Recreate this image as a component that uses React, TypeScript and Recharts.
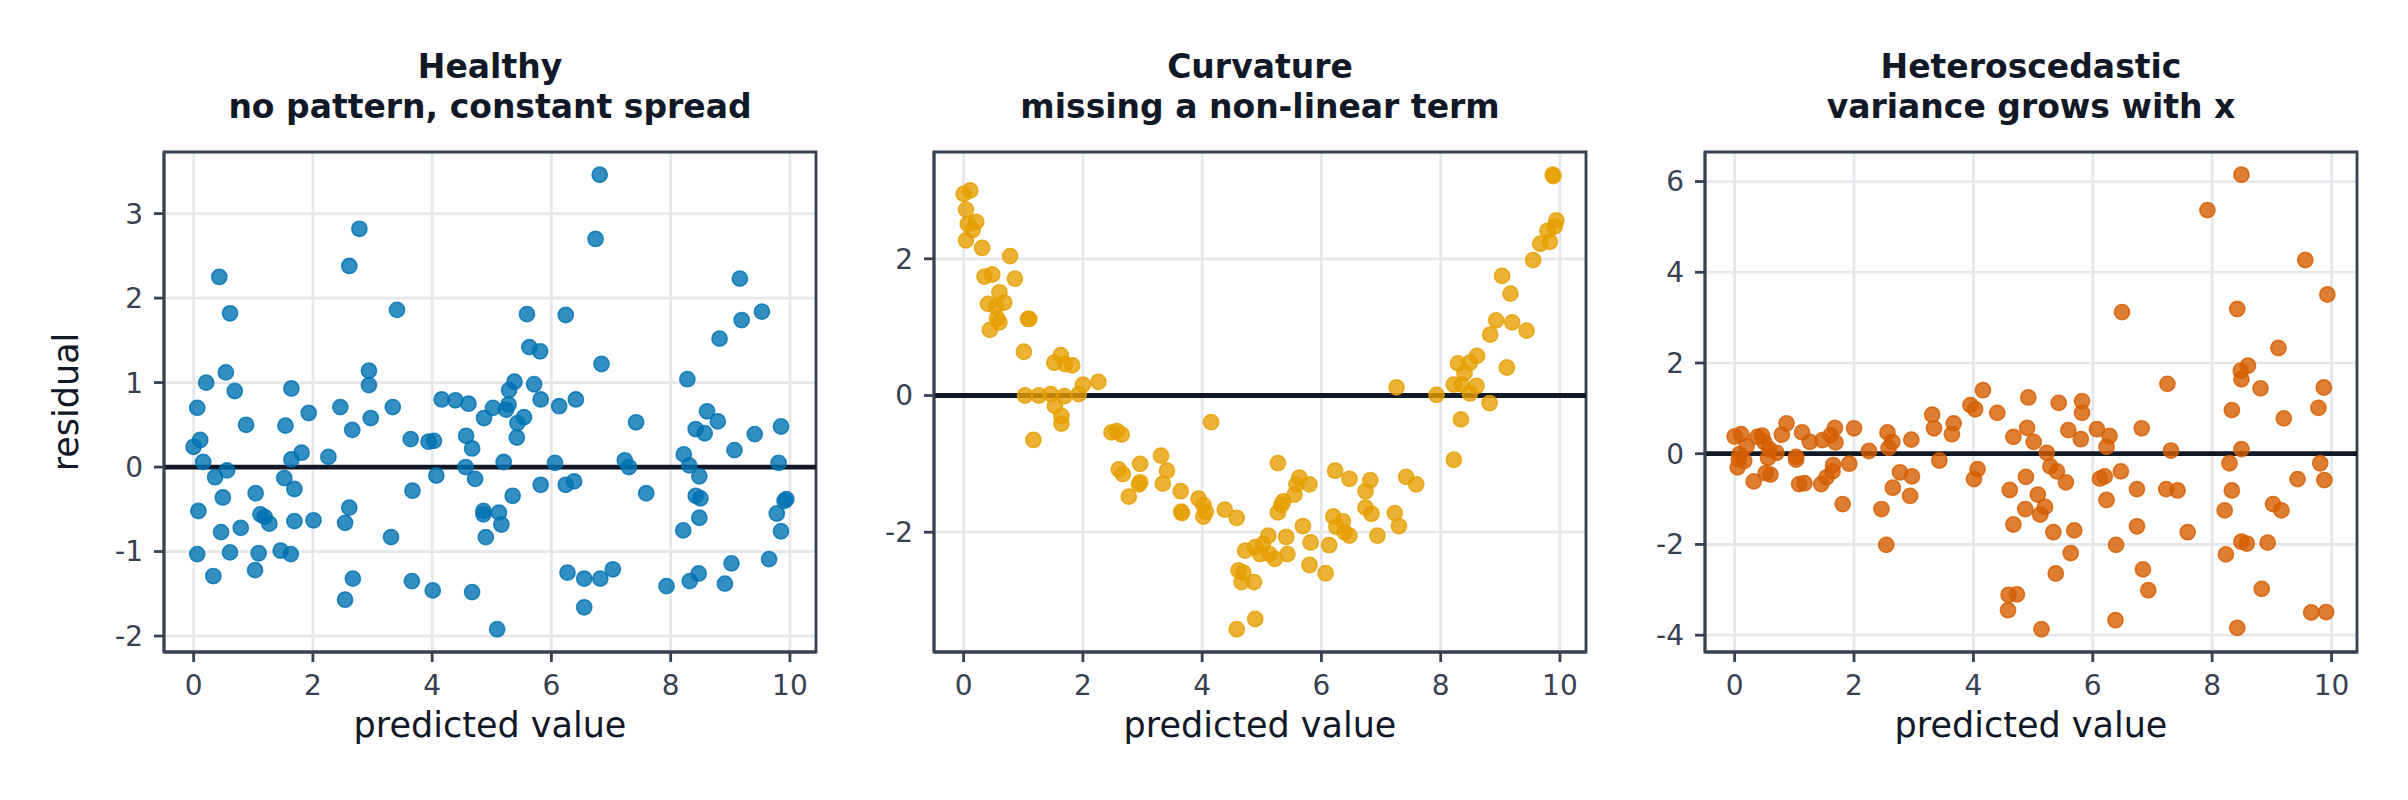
import { ScatterChart, Scatter, XAxis, YAxis, CartesianGrid, ReferenceLine, ReferenceArea } from 'recharts';

const FONT = '"DejaVu Sans", "Liberation Sans", sans-serif';
const INK = '#111827';
const AXIS = '#374151';
const GRID = '#e5e7eb';

// healthy residuals: no pattern, constant spread
const healthyX = [
  2.78, 2.61, 0.43, 0.61, 3.41, 0.54, 0.21, 0.69, 1.64, 2.94, 2.94, 0.06, 2.46, 3.34, 0.88, 1.54,
  1.93, 2.97, 2.66, 4.16, 4.39, 4.61, 4.87, 0.11, 0.0, 0.16, 1.81, 1.64, 2.26, 3.64, 3.94, 4.03,
  4.57, 4.67, 4.56, 0.56, 0.36, 1.52, 1.69, 4.07, 4.72, 0.49, 1.04, 3.67, 0.08, 2.61, 1.12, 1.19,
  1.27, 1.69, 2.01, 2.54, 0.46, 0.79, 3.31, 4.86, 4.86, 4.9, 0.06, 0.61, 1.09, 1.46, 1.63, 0.33,
  1.03, 2.67, 2.54, 3.66, 4.01, 4.67,
  6.81, 6.74, 9.16, 5.59, 6.24, 9.53, 9.19, 8.82, 5.63, 5.81, 6.84, 8.28, 5.38, 5.29, 5.71, 5.82,
  6.13, 6.41, 5.02, 5.24, 5.28, 5.54, 5.43, 5.42, 7.42, 8.61, 8.79, 8.42, 8.57, 9.41, 9.85, 9.07,
  8.22, 5.2, 6.06, 7.23, 7.3, 8.31, 9.81, 8.48, 5.82, 6.24, 6.38, 5.35, 7.59, 8.42, 8.5, 9.91,
  9.94, 5.12, 5.16, 9.78, 8.48, 8.21, 9.85, 9.65, 6.27, 6.55, 6.82, 7.03, 9.02, 8.47, 8.32, 7.93,
  8.91, 6.55, 5.09,
];
const healthyY = [
  2.82, 2.38, 2.25, 1.82, 1.86, 1.12, 1.0, 0.9, 0.93, 1.14, 0.97, 0.7, 0.71, 0.71, 0.5, 0.49,
  0.64, 0.58, 0.44, 0.8, 0.79, 0.75, 0.58, 0.32, 0.24, 0.06, 0.17, 0.09, 0.12, 0.33, 0.3, 0.31,
  0.37, 0.22, 0.0, -0.04, -0.12, -0.13, -0.26, -0.1, -0.14, -0.36, -0.31, -0.28, -0.52, -0.48, -0.56, -0.59,
  -0.67, -0.64, -0.63, -0.66, -0.77, -0.72, -0.83, -0.52, -0.56, -0.83, -1.03, -1.01, -1.02, -0.99, -1.03, -1.29,
  -1.22, -1.32, -1.57, -1.35, -1.46, -1.48,
  3.46, 2.7, 2.23, 1.81, 1.8, 1.84, 1.74, 1.52, 1.42, 1.37, 1.22, 1.04, 1.01, 0.91, 0.98, 0.8,
  0.72, 0.8, 0.7, 0.68, 0.74, 0.59, 0.52, 0.35, 0.53, 0.66, 0.54, 0.45, 0.4, 0.39, 0.48, 0.2,
  0.15, 0.06, 0.05, 0.08, 0.0, 0.02, 0.05, -0.11, -0.21, -0.21, -0.17, -0.34, -0.31, -0.34, -0.37, -0.4,
  -0.38, -0.54, -0.68, -0.55, -0.6, -0.75, -0.76, -1.09, -1.25, -1.32, -1.32, -1.21, -1.14, -1.26, -1.35, -1.41,
  -1.38, -1.66, -1.92,
];

// curvature: missing a non-linear term
const curvatureX = [
  0.0, 0.11, 0.04, 0.21, 0.07, 0.15, 0.04, 0.31, 0.78, 0.35, 0.48, 0.86, 0.6, 0.68, 0.41, 0.54,
  0.56, 0.6, 0.44, 1.1, 1.08, 1.01, 1.63, 1.52, 1.7, 1.82, 2.26, 2.0, 1.93, 1.03, 1.26, 1.46,
  1.69, 1.53, 1.64, 1.64, 1.17, 4.15, 2.48, 2.57, 2.65, 2.6, 2.67, 2.96, 2.94, 2.96, 2.77, 3.31,
  3.41, 3.34, 3.64, 3.66, 3.65, 3.94, 4.02, 4.06, 4.02, 4.38, 4.58, 4.72, 4.89, 4.61, 4.69, 4.66,
  4.87, 4.58, 4.89,
  9.88, 9.89, 9.94, 9.91, 9.79, 9.83, 9.67, 9.55, 9.03, 9.17, 8.93, 9.2, 9.44, 8.83, 9.11, 8.61,
  8.29, 8.49, 8.4, 8.22, 8.35, 8.6, 8.49, 7.93, 7.26, 8.82, 8.34, 8.22, 5.27, 5.63, 5.58, 5.8,
  5.55, 5.36, 5.33, 5.27, 6.23, 6.47, 6.82, 6.74, 7.42, 7.59, 6.74, 6.84, 7.23, 7.3, 5.69, 6.2,
  6.36, 6.25, 6.39, 6.47, 6.94, 5.82, 6.13, 5.8, 6.07, 5.41, 5.43, 5.11, 5.02, 5.22, 5.13, 4.97,
];
const curvatureY = [
  2.95, 3.0, 2.72, 2.54, 2.51, 2.42, 2.27, 2.16, 2.04, 1.74, 1.77, 1.71, 1.51, 1.36, 1.34, 1.3,
  1.13, 1.07, 0.96, 1.12, 1.12, 0.64, 0.59, 0.48, 0.46, 0.44, 0.2, 0.16, 0.02, 0.0, 0.0, 0.02,
  -0.01, -0.15, -0.3, -0.41, -0.65, -0.39, -0.54, -0.52, -0.57, -1.08, -1.15, -1.0, -1.3, -1.27, -1.48, -0.88,
  -1.1, -1.29, -1.4, -1.72, -1.7, -1.51, -1.6, -1.7, -1.77, -1.67, -1.79, -2.27, -2.22, -2.56, -2.59, -2.73,
  -2.73, -3.42, -3.27,
  3.23, 3.21, 2.56, 2.47, 2.41, 2.25, 2.22, 1.98, 1.75, 1.49, 1.1, 1.07, 0.95, 0.89, 0.41, 0.58,
  0.47, 0.48, 0.33, 0.16, 0.16, 0.14, 0.03, 0.01, 0.12, -0.11, -0.35, -0.94, -0.99, -1.2, -1.3, -1.3,
  -1.45, -1.55, -1.6, -1.71, -1.1, -1.22, -1.24, -1.4, -1.19, -1.3, -1.64, -1.73, -1.72, -1.91, -1.91, -1.77,
  -1.84, -1.92, -2.0, -2.05, -2.05, -2.15, -2.19, -2.48, -2.6, -2.07, -2.32, -2.05, -2.17, -2.39, -2.32, -2.32,
];

// heteroscedastic: variance grows with x
const heteroX = [
  0.0, 0.11, 0.2, 0.08, 0.07, 0.16, 0.05, 0.32, 0.38, 0.46, 0.5, 0.58, 0.7, 0.56, 0.52, 0.6,
  0.79, 0.87, 1.13, 1.26, 1.03, 1.03, 1.08, 1.17, 1.47, 1.68, 1.61, 1.69, 1.65, 1.64, 1.54, 1.45,
  2.0, 1.92, 1.81, 2.25, 2.56, 2.64, 2.58, 2.96, 2.77, 2.97, 2.65, 2.94, 2.46, 2.54, 3.31, 3.34,
  3.67, 3.64, 3.43, 3.95, 4.03, 4.16, 4.4, 4.07, 4.01, 4.67, 4.61, 4.67, 4.59, 4.73, 4.58,
  8.49, 7.92, 9.56, 9.93, 6.49, 8.42, 9.11, 7.25, 8.48, 8.6, 8.49, 8.81, 9.87, 9.78, 8.33, 9.2,
  4.92, 5.43, 5.82, 5.82, 4.9, 5.59, 5.8, 6.07, 6.28, 6.23, 6.82, 5.01, 5.23, 7.31, 8.49, 8.29,
  9.81, 5.29, 5.4, 5.55, 4.88, 6.12, 6.2, 6.47, 6.74, 7.23, 7.42, 8.33, 9.43, 9.88, 5.08, 5.2,
  5.12, 4.87, 6.23, 8.21, 9.02, 9.16, 5.34, 5.69, 6.74, 7.59, 6.39, 5.63, 8.49, 8.58, 8.93, 8.23,
  5.38, 6.84, 6.93, 8.83, 6.38, 5.14, 8.42, 9.66, 9.91,
];
const heteroY = [
  0.38, 0.43, 0.17, -0.01, -0.13, -0.16, -0.3, -0.61, 0.37, 0.4, 0.25, 0.1, 0.02, -0.09, -0.43, -0.46,
  0.42, 0.67, 0.47, 0.26, -0.07, -0.13, -0.67, -0.65, 0.3, 0.57, 0.41, 0.25, -0.25, -0.39, -0.52, -0.67,
  0.56, -0.22, -1.11, 0.06, 0.47, 0.26, 0.13, 0.31, -0.41, -0.5, -0.75, -0.93, -1.22, -2.01, 0.86, 0.56,
  0.67, 0.43, -0.15, 1.07, 0.98, 1.4, 0.9, -0.34, -0.56, 0.37, -0.8, -1.56, -3.11, -3.1, -3.45,
  6.15, 5.37, 4.27, 3.51, 3.12, 3.19, 2.33, 1.54, 1.83, 1.94, 1.64, 1.44, 1.46, 1.01, 0.96, 0.78,
  1.24, 1.12, 1.16, 0.9, 0.57, 0.52, 0.32, 0.54, 0.39, 0.15, 0.56, 0.26, 0.02, 0.07, 0.1, -0.21,
  -0.21, -0.28, -0.39, -0.63, -0.51, -0.55, -0.5, -0.39, -0.78, -0.78, -0.81, -0.81, -0.56, -0.58, -0.9, -1.17,
  -1.34, -1.22, -1.02, -1.25, -1.11, -1.25, -1.73, -1.69, -1.6, -1.73, -2.01, -2.19, -1.94, -1.98, -1.96, -2.22,
  -2.64, -2.55, -3.01, -2.98, -3.67, -3.87, -3.84, -3.5, -3.49,
];

const xTicks = [0, 2, 4, 6, 8, 10];
const healthyTicks = [-2, -1, 0, 1, 2, 3];
const curvatureTicks = [-2, 0, 2];
const heteroTicks = [-4, -2, 0, 2, 4, 6];

const PLOT_TOP = 152;
const PLOT_W = 652;
const PLOT_H = 500;
const Y_AXIS_W = 164;
const X_AXIS_H = 100;
const CHART_H = 800;
const CHART_W = Y_AXIS_W + PLOT_W + 12;

// matplotlib style 5% margins around the data
function padded(values: number[]): [number, number] {
  const lo = Math.min(...values);
  const hi = Math.max(...values);
  const m = (hi - lo) * 0.05;
  return [lo - m, hi + m];
}

const dot = (color: string) => (props: any) => (
  <circle
    cx={props.cx}
    cy={props.cy}
    r={7.6}
    fill={color}
    fillOpacity={0.8}
    stroke={color}
    strokeOpacity={0.8}
    strokeWidth={1.6}
  />
);

const residualLabel = (props: any) => {
  const vb = props.viewBox ?? { x: 0, y: PLOT_TOP, height: PLOT_H };
  const x = vb.x + 78;
  const y = vb.y + vb.height / 2;
  return (
    <text
      x={x}
      y={y}
      transform={`rotate(-90 ${x} ${y})`}
      textAnchor="middle"
      fill={INK}
      fontSize={35}
      fontFamily={FONT}
    >
      residual
    </text>
  );
};

interface PanelProps {
  left: number;
  title: string;
  subtitle: string;
  xs: number[];
  ys: number[];
  yTicks: number[];
  color: string;
  showYLabel?: boolean;
}

function Panel({ left, title, subtitle, xs, ys, yTicks, color, showYLabel }: PanelProps) {
  const data = xs.map((x, i) => ({ x, y: ys[i] }));
  const xDomain = padded(xs);
  const yDomain = padded(ys);
  const tickStyle = { fill: AXIS, fontSize: 28, fontFamily: FONT };
  const lineStyle = { stroke: AXIS, strokeWidth: 2.8 };

  return (
    <>
      <div
        style={{
          position: 'absolute',
          left: left + Y_AXIS_W,
          top: 47,
          width: PLOT_W,
          textAlign: 'center',
          fontFamily: FONT,
          fontWeight: 'bold',
          fontSize: 33,
          lineHeight: '40px',
          color: INK,
        }}
      >
        <div>{title}</div>
        <div>{subtitle}</div>
      </div>
      <div style={{ position: 'absolute', left, top: 0 }}>
        <ScatterChart
          width={CHART_W}
          height={CHART_H}
          margin={{ top: PLOT_TOP, right: 12, left: 0, bottom: CHART_H - PLOT_TOP - PLOT_H - X_AXIS_H }}
        >
          <CartesianGrid stroke={GRID} strokeWidth={2.7} />
          <XAxis
            type="number"
            dataKey="x"
            domain={xDomain}
            allowDataOverflow
            ticks={xTicks}
            interval={0}
            height={X_AXIS_H}
            tick={tickStyle}
            tickLine={lineStyle}
            axisLine={lineStyle}
            tickSize={10}
            tickMargin={13}
            label={{ value: 'predicted value', position: 'insideBottom', offset: 15, fill: INK, fontSize: 35, fontFamily: FONT }}
          />
          <YAxis
            type="number"
            dataKey="y"
            domain={yDomain}
            allowDataOverflow
            ticks={yTicks}
            interval={0}
            width={Y_AXIS_W}
            tick={tickStyle}
            tickLine={lineStyle}
            axisLine={lineStyle}
            tickSize={10}
            tickMargin={11}
            label={showYLabel ? residualLabel : undefined}
          />
          <Scatter data={data} shape={dot(color)} isAnimationActive={false} />
          <ReferenceLine y={0} stroke={INK} strokeWidth={4.8} />
          <ReferenceArea
            x1={xDomain[0]}
            x2={xDomain[1]}
            y1={yDomain[0]}
            y2={yDomain[1]}
            fill="none"
            fillOpacity={0}
            stroke={AXIS}
            strokeWidth={2.8}
            ifOverflow="visible"
          />
        </ScatterChart>
      </div>
    </>
  );
}

export default function App() {
  return (
    <div style={{ position: 'absolute', left: 0, top: 0, width: 2408, height: 800, background: '#ffffff', overflow: 'hidden' }}>
      <Panel
        left={0}
        title="Healthy"
        subtitle="no pattern, constant spread"
        xs={healthyX}
        ys={healthyY}
        yTicks={healthyTicks}
        color="#0072B2"
        showYLabel
      />
      <Panel
        left={770}
        title="Curvature"
        subtitle="missing a non-linear term"
        xs={curvatureX}
        ys={curvatureY}
        yTicks={curvatureTicks}
        color="#E69F00"
      />
      <Panel
        left={1541}
        title="Heteroscedastic"
        subtitle="variance grows with x"
        xs={heteroX}
        ys={heteroY}
        yTicks={heteroTicks}
        color="#D55E00"
      />
    </div>
  );
}
